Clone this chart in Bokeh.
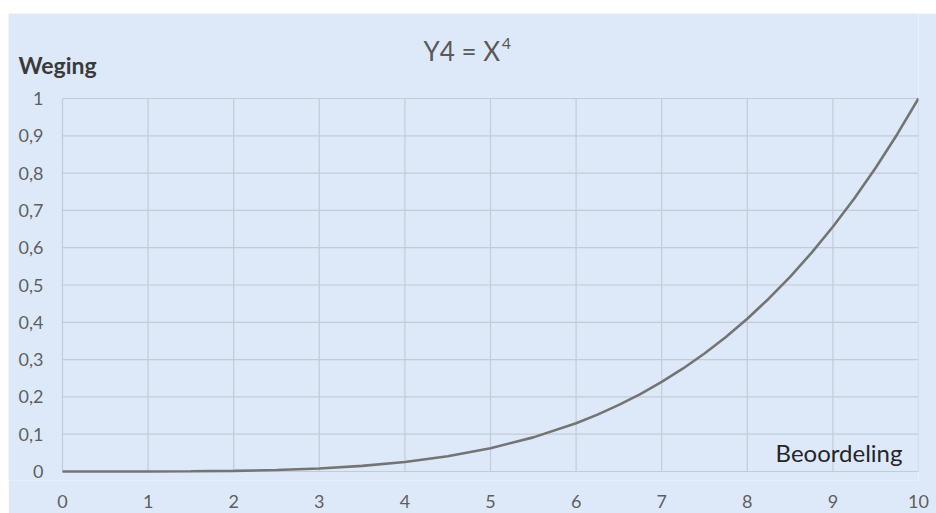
from bokeh.plotting import figure
from bokeh.models import Range1d, Label, FixedTicker, Spacer, ColumnDataSource
from bokeh.layouts import column, row
from bokeh.core.properties import value
from bokeh.embed import file_html
from bokeh.resources import INLINE

# data
x_vals = [0, 0.5, 1, 1.5, 2, 2.5, 3, 3.5, 4, 4.5, 5, 5.5, 6, 6.25, 6.5, 6.75, 7, 7.25, 7.5, 7.75,
          8, 8.25, 8.5, 8.75, 9, 9.25, 9.5, 9.75, 10]
y_vals = [0, 0.0, 0.0001, 0.0005, 0.0016, 0.004, 0.0081, 0.015, 0.0256, 0.041, 0.0625,
          0.0915, 0.1296, 0.1526, 0.1785, 0.2076, 0.2401, 0.2763, 0.3164, 0.3608,
          0.4096, 0.4633, 0.522, 0.5862, 0.6561, 0.732, 0.8145, 0.9037, 1.0]
x_ticks = [0, 1, 2, 3, 4, 5, 6, 7, 8, 9, 10]
y_ticks = [0, 0.1, 0.2, 0.3, 0.4, 0.5, 0.6, 0.7, 0.8, 0.9, 1.0]
y_tick_labels = ["0", "0,1", "0,2", "0,3", "0,4", "0,5", "0,6", "0,7", "0,8", "0,9", "1"]
title_text = "Y4 = X"
title_sup = "4"
y_title = "Weging"
x_title = "Beoordeling"

BG = "#dde9f9"
GRID = "#c3cbd6"
FONT = "Lato"
H = 500

x_min, x_max = x_ticks[0], x_ticks[-1]
y_min, y_max = y_ticks[0], y_ticks[-1]

# the frame covers the chart card; grid lines are drawn only over the data area
p = figure(width=928, height=H, output_backend="svg", toolbar_location=None,
           x_range=Range1d(-0.6308, 10), y_range=Range1d(-0.0241, 1.2279),
           y_axis_location=None,
           min_border_left=0, min_border_right=18, min_border_top=0, min_border_bottom=33)
p.background_fill_color = BG
p.border_fill_color = BG
p.outline_line_color = None

p.xaxis.ticker = FixedTicker(ticks=x_ticks)
xa = p.xaxis[0]
xa.axis_line_color = None
xa.major_tick_line_color = None
xa.minor_tick_line_color = None
xa.major_label_text_color = "#5f5f5f"
xa.major_label_text_font = FONT
xa.major_label_text_font_size = "18px"
xa.major_label_standoff = 8

for g in p.xgrid:
    g.visible = False
for g in p.ygrid:
    g.visible = False

# grid lines
p.segment(x0=x_ticks, y0=[y_min] * len(x_ticks), x1=x_ticks, y1=[y_max] * len(x_ticks),
          line_color=GRID, line_width=1.2)
p.segment(x0=[x_min] * len(y_ticks), y0=y_ticks, x1=[x_max] * len(y_ticks), y1=y_ticks,
          line_color=GRID, line_width=1.2)

# y tick labels placed through the data scales
ylab_src = ColumnDataSource(dict(x=[-0.222] * len(y_ticks), y=y_ticks, text=y_tick_labels))
p.text(x="x", y="y", text="text", source=ylab_src, text_align="right", text_baseline="middle",
       text_font=value(FONT), text_font_size=value("18px"), text_color="#5f5f5f")

p.line(x_vals, y_vals, line_color="#747474", line_width=2.6)

p.add_layout(Label(x=4.217, y=1.1287, text=title_text, text_align="left", text_baseline="middle",
                   text_font=FONT, text_font_size="26px", text_color="#595959"))
p.add_layout(Label(x=5.13, y=1.147, text=title_sup, text_align="left", text_baseline="middle",
                   text_font=FONT, text_font_size="16px", text_color="#595959"))
p.add_layout(Label(x=-0.514, y=1.0898, text=y_title, text_align="left", text_baseline="middle",
                   text_font=FONT, text_font_size="23px", text_font_style="bold",
                   text_color="#3a3a3a"))
p.add_layout(Label(x=9.813, y=0.0523, text=x_title, text_align="right", text_baseline="middle",
                   text_font=FONT, text_font_size="24px", text_color="#262626"))

layout = column(Spacer(height=13, width=936),
                row(Spacer(width=8, height=H), p, spacing=0), spacing=0)
open("out.html", "w").write(file_html(layout, INLINE))
